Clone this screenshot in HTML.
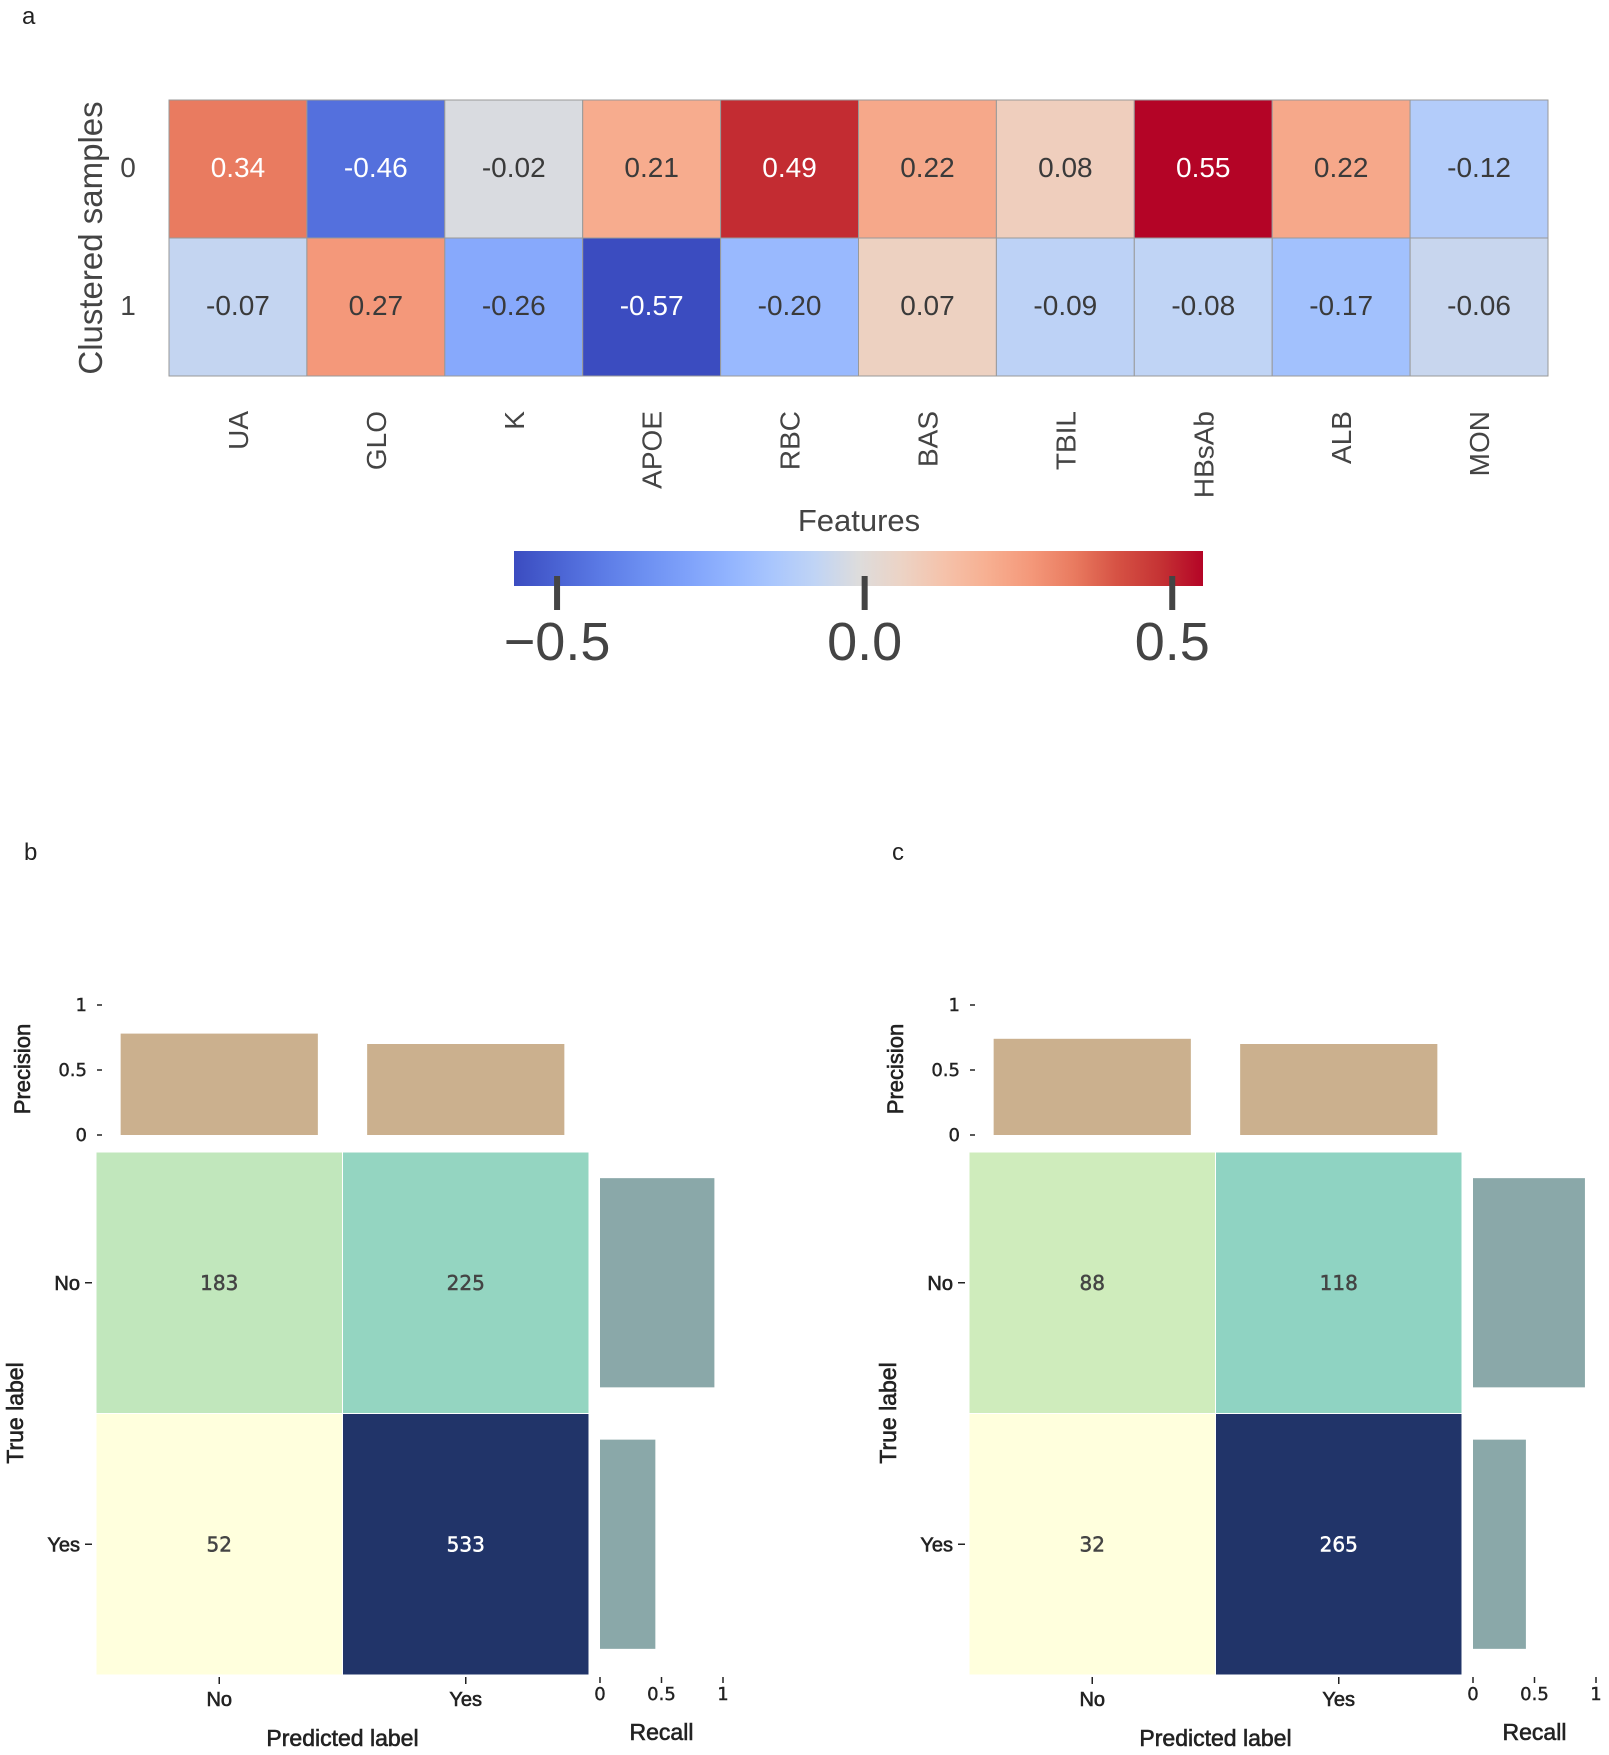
<!DOCTYPE html>
<html><head><meta charset="utf-8">
<style>
html,body{margin:0;padding:0;background:#fff;}
svg{display:block;font-family:"Liberation Sans",Arial,sans-serif;}
.dv{font-family:"DejaVu Sans","Liberation Sans",sans-serif;}
.lb{stroke:#222;stroke-width:0.6;}
</style></head>
<body>
<svg id="fig" width="1609" height="1755" viewBox="0 0 1609 1755">
<text x="22" y="24" font-size="24" fill="#222">a</text>
<text x="24" y="860" font-size="24" fill="#222">b</text>
<text x="892" y="860" font-size="24" fill="#222">c</text>
<g id="heat"></g>
<g id="cbar"></g>
<g id="cmB"></g>
<g id="cmC"></g>
</svg>
<script>
const features=["UA","GLO","K","APOE","RBC","BAS","TBIL","HBsAb","ALB","MON"];
const row0=[0.34,-0.46,-0.02,0.21,0.49,0.22,0.08,0.55,0.22,-0.12];
const row1=[-0.07,0.27,-0.26,-0.57,-0.20,0.07,-0.09,-0.08,-0.17,-0.06];
const rowLabels=["0","1"];
const cbTicks=[-0.5,0.0,0.5];
const cbTickLabels=["\u22120.5","0.0","0.5"];
const cmLabels=["No","Yes"];
const cmB=[[183,225],[52,533]];
const cmC=[[88,118],[32,265]];
const precB=[0.78,0.70];
const recB=[0.93,0.45];
const precC=[0.74,0.70];
const recC=[0.91,0.43];
const precTicks=[0,0.5,1];
const precTickLabels=["0","0.5","1"];
const recTicks=[0,0.5,1];
const recTickLabels=["0","0.5","1"];

const NS="http://www.w3.org/2000/svg";
function mk(tag,attrs,parent,txt){const e=document.createElementNS(NS,tag);for(const k in attrs)e.setAttribute(k,attrs[k]);if(txt!==undefined)e.textContent=txt;parent.appendChild(e);return e;}
function hex(c){return [parseInt(c.slice(1,3),16),parseInt(c.slice(3,5),16),parseInt(c.slice(5,7),16)];}
function interp(stops,t){t=Math.max(0,Math.min(1,t));const n=stops.length-1;const i=Math.min(n-1,Math.floor(t*n));const f=t*n-i;const a=hex(stops[i]),b=hex(stops[i+1]);return a.map((v,k)=>Math.round(v+(b[k]-v)*f));}
const coolwarm=["#3b4cc0","#4a63d3","#5b7ae5","#6c8ff1","#7ea1fa","#92b4fe","#a9c6fd","#c0d4f5","#dddcdc","#ecd3c5","#f5c2aa","#f7af91","#f4987a","#e97b60","#d65244","#c53334","#b40426"];
const ylgnbu=["#ffffd9","#edf8b1","#c7e9b4","#7fcdbb","#41b6c4","#1d91c0","#225ea8","#253494","#081d58"];
function rgb(a){return "rgb("+a.join(",")+")";}

// Heatmap
const vmin=-0.57,vmax=0.55;
const hx0=169,hy0=100,cw=137.9,ch=138;
const heat=document.getElementById("heat");
const hx=i=>hx0+i*cw, hy=j=>hy0+j*ch;
[row0,row1].forEach((row,j)=>{
  row.forEach((v,i)=>{
    const c=interp(coolwarm,(v-vmin)/(vmax-vmin));
    const r=mk("rect",{x:hx(i),y:hy(j),width:cw,height:ch,fill:rgb(c),stroke:"#999","stroke-width":1},heat);
    
    
    const t=mk("text",{x:hx(i)+cw/2,y:hy(j)+ch/2+8,"font-size":28,"text-anchor":"middle",fill:Math.abs(v)>0.3?"#fff":"#3a3a3a"},heat,v.toFixed(2));
    
    
  });
  const rl=mk("text",{x:128,y:hy(j)+ch/2+8,"font-size":28,"text-anchor":"middle",fill:"#444"},heat,rowLabels[j]);
  
  
});
features.forEach((f,i)=>{
  const cx=hx(i)+cw/2;
  const t=mk("text",{x:0,y:0,"font-size":28,"text-anchor":"end",fill:"#444",transform:`translate(${cx+10},411) rotate(-90)`},heat,f);
  
  
});
const yt=mk("text",{x:0,y:0,"font-size":33,"text-anchor":"middle",fill:"#444",transform:"translate(102,238) rotate(-90)"},heat,"Clustered samples");


const xt=mk("text",{x:859,y:531,"font-size":31,"text-anchor":"middle",fill:"#444"},heat,"Features");



// Colorbar
const cb=document.getElementById("cbar");
const cbx0=514,cbx1=1203,cby0=551,cby1=586;
const cbX=v=>cbx0+(v-vmin)/(vmax-vmin)*(cbx1-cbx0);
const defs=mk("defs",{},cb);
const lg=mk("linearGradient",{id:"cwg",x1:0,x2:1,y1:0,y2:0},defs);
coolwarm.forEach((c,k)=>mk("stop",{offset:(k/(coolwarm.length-1)),"stop-color":c},lg));
const cbr=mk("rect",{x:cbx0,y:cby0,width:cbx1-cbx0,height:cby1-cby0,fill:"url(#cwg)"},cb);


cbTicks.forEach((v,k)=>{
  const x=cbX(v);
  const tk=mk("line",{x1:x,x2:x,y1:cby1-10,y2:cby1+24,stroke:"#444","stroke-width":6},cb);
  
  
  const tl=mk("text",{x:x,y:660,"font-size":54,"text-anchor":"middle",fill:"#444"},cb,cbTickLabels[k]);
  
  
});

// Confusion matrices
function drawCM(g,cm,prec,rec,o){
  const mx0=o.x0,mx1=o.x1,my0=1152,my1=1675;
  const cwid=(mx1-mx0)/2,chei=(my1-my0)/2;
  const flat=cm.flat();const mn=Math.min(...flat),mxv=Math.max(...flat);
  cm.forEach((row,j)=>row.forEach((v,i)=>{
    const c=interp(ylgnbu,(v-mn)/(mxv-mn)).map(u=>Math.round(u*0.9+25.5));
    const r=mk("rect",{x:mx0+i*cwid,y:my0+j*chei,width:cwid,height:chei,fill:rgb(c),stroke:"#fff","stroke-width":1},g);
    
    
    const lum=0.299*c[0]+0.587*c[1]+0.114*c[2];
    const col=lum<120?"#fff":"#444";
    const t=mk("text",{class:"dv",x:mx0+(i+0.5)*cwid,y:my0+(j+0.5)*chei+7,"font-size":20,"text-anchor":"middle",fill:col,stroke:col,"stroke-width":0.5},g,String(v));
    
    
  }));
  cmLabels.forEach((l,k)=>{
    const yy=my0+(k+0.5)*chei;
    const tl=mk("text",{class:"lb",x:mx0-16,y:yy+7,"font-size":20,"text-anchor":"end",fill:"#222"},g,l);
    
    
    mk("line",{x1:mx0-11,x2:mx0-4,y1:yy,y2:yy,stroke:"#222","stroke-width":1.5},g);
    const xx=mx0+(k+0.5)*cwid;
    mk("line",{x1:xx,x2:xx,y1:my1+2,y2:my1+9,stroke:"#222","stroke-width":1.5},g);
    const xl=mk("text",{class:"lb",x:xx,y:1706,"font-size":20,"text-anchor":"middle",fill:"#222"},g,l);
    
    
  });
  const tlab=mk("text",{class:"lb",x:0,y:0,"font-size":23,"text-anchor":"middle",fill:"#222",transform:`translate(${o.tlx},1413) rotate(-90)`},g,"True label");
  
  
  const plab=mk("text",{class:"lb",x:(mx0+mx1)/2,y:1746,"font-size":23,"text-anchor":"middle",fill:"#222"},g,"Predicted label");
  
  
  // precision bars
  const py0=1135,py1=1005;
  const pY=v=>py0+(py1-py0)*v;
  precTicks.forEach((v,k)=>{
    mk("line",{x1:mx0+1,x2:mx0+6,y1:pY(v),y2:pY(v),stroke:"#222","stroke-width":1.5},g);
    const t=mk("text",{class:"dv",x:mx0-9,y:pY(v)+6,"font-size":18,"text-anchor":"end",fill:"#222",stroke:"#222","stroke-width":0.4},g,precTickLabels[k]);
    
    
  });
  prec.forEach((v,i)=>{
    const bx=mx0+i*cwid+cwid*0.1;
    const b=mk("rect",{x:bx,y:pY(v),width:cwid*0.8,height:pY(0)-pY(v),fill:"#cbb08e"},g);
    
    
  });
  const pl=mk("text",{class:"lb",x:0,y:0,"font-size":22,"text-anchor":"middle",fill:"#222",transform:`translate(${o.tlx+7},1069) rotate(-90)`},g,"Precision");
  
  
  // recall bars
  const rx0=o.rx0,unit=123;
  const rX=v=>rx0+unit*v;
  rec.forEach((v,j)=>{
    const by=my0+j*chei+chei*0.1;
    const b=mk("rect",{x:rX(0),y:by,width:rX(v)-rX(0),height:chei*0.8,fill:"#8aa8a9"},g);
    
    
  });
  recTicks.forEach((v,k)=>{
    mk("line",{x1:rX(v),x2:rX(v),y1:1677,y2:1683,stroke:"#222","stroke-width":1.5},g);
    const t=mk("text",{class:"dv",x:rX(v),y:1700,"font-size":18,"text-anchor":"middle",fill:"#222",stroke:"#222","stroke-width":0.4},g,recTickLabels[k]);
    
    
  });
  const rl=mk("text",{class:"lb",x:rX(0.5),y:1740,"font-size":23,"text-anchor":"middle",fill:"#222"},g,"Recall");
  
  
}
drawCM(document.getElementById("cmB"),cmB,precB,recB,{x0:96,x1:589,rx0:600,tlx:23});
drawCM(document.getElementById("cmC"),cmC,precC,recC,{x0:969,x1:1462,rx0:1473,tlx:896});
</script>
</body></html>
